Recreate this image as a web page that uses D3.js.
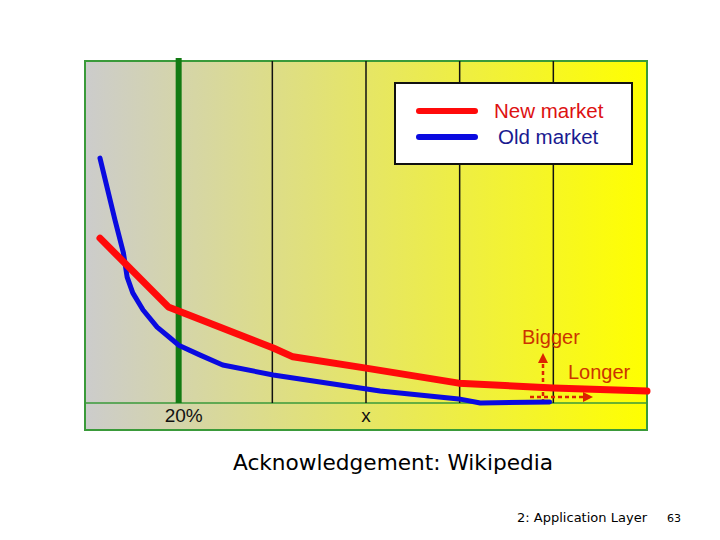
<!DOCTYPE html>
<html>
<head>
<meta charset="utf-8">
<script src="https://cdn.jsdelivr.net/npm/d3@7"></script>
<style>
  body { margin: 0; background: #fff; }
  svg { display: block; }
</style>
</head>
<body>
<div id="chart"></div>
<script>
// x is in column units (6 columns), y in percent of plot height
const newMarket = [
    { x: 0.16, y: 48.2 }, { x: 0.89, y: 28.1 }, { x: 2.01, y: 16.1 },
    { x: 2.22, y: 13.5 }, { x: 3.0, y: 10.2 }, { x: 3.99, y: 5.8 },
    { x: 5.0, y: 4.4 }, { x: 6.0, y: 3.5 }
];
const oldMarket = [
    { x: 0.16, y: 71.6 }, { x: 0.32, y: 53.5 }, { x: 0.41, y: 43.9 },
    { x: 0.45, y: 36.8 }, { x: 0.51, y: 32.2 }, { x: 0.62, y: 27.2 },
    { x: 0.77, y: 22.2 }, { x: 0.91, y: 19.0 }, { x: 1.0, y: 16.9 },
    { x: 1.23, y: 14.0 }, { x: 1.47, y: 11.1 }, { x: 2.01, y: 8.2 },
    { x: 3.15, y: 3.5 }, { x: 3.99, y: 1.2 }, { x: 4.22, y: 0 },
    { x: 4.96, y: 0.3 }
];
const gridCols = [1, 2, 3, 4, 5];
const headCol = 1;
const tickLabels = [{ x: 1, label: '20%' }, { x: 3, label: 'x' }];
const seriesNames = ['New market', 'Old market'];

(function(){
    const box = { left: 85, right: 647, top: 61, bottom: 430, axis: 403 };

    const svg = d3.select('#chart')
        .append('svg')
            .attr('width', 720)
            .attr('height', 540);

    const xScale = d3.scaleLinear().domain([0, 6]).range([box.left, box.right]);
    const yScale = d3.scaleLinear().domain([0, 100]).range([box.axis, box.top]);

    const defs = svg.append('defs');
    const grad = defs.append('linearGradient')
        .attr('id', 'bg')
        .attr('x1', '0%').attr('x2', '100%').attr('y1', '0%').attr('y2', '0%');
    grad.append('stop').attr('offset', '0%').attr('stop-color', '#cccccc');
    grad.append('stop').attr('offset', '100%').attr('stop-color', '#ffff00');

    svg.append('rect')
        .attr('x', box.left)
        .attr('y', box.top)
        .attr('width', box.right - box.left)
        .attr('height', box.bottom - box.top)
        .attr('fill', 'url(#bg)')
        .attr('stroke', '#3a9a3a')
        .attr('stroke-width', 2);

    svg.append('line')
        .attr('x1', box.left).attr('x2', box.right)
        .attr('y1', box.axis).attr('y2', box.axis)
        .attr('stroke', '#3a9a3a')
        .attr('stroke-width', 1.5);

    svg.selectAll('.grid')
        .data(gridCols.filter(d => d !== headCol))
        .enter()
        .append('line')
            .attr('class', 'grid')
            .attr('x1', d => xScale(d)).attr('x2', d => xScale(d))
            .attr('y1', box.top).attr('y2', box.axis)
            .attr('stroke', '#111')
            .attr('stroke-width', 1.5);

    svg.append('line')
        .attr('x1', xScale(headCol)).attr('x2', xScale(headCol))
        .attr('y1', box.top - 3).attr('y2', box.axis)
        .attr('stroke', '#127a12')
        .attr('stroke-width', 6);

    // the 20% label sits a little right of its line
    svg.selectAll('.tick-label')
        .data(tickLabels)
        .enter()
        .append('text')
            .attr('class', 'tick-label')
            .attr('x', d => xScale(d.x) + (d.x === headCol ? 5 : 0))
            .attr('y', 422)
            .attr('text-anchor', 'middle')
            .attr('font-family', 'Liberation Sans, Arial, sans-serif')
            .attr('font-size', 19)
            .attr('fill', '#111')
            .text(d => d.label);

    const line = d3.line()
        .x(d => xScale(d.x))
        .y(d => yScale(d.y));

    // bigger / longer arrows
    const arrowColor = '#dd2200';
    defs.append('marker')
        .attr('id', 'arrow')
        .attr('viewBox', '0 0 10 10')
        .attr('refX', 5).attr('refY', 5)
        .attr('markerWidth', 4).attr('markerHeight', 4)
        .attr('orient', 'auto')
        .append('path')
            .attr('d', 'M0,0L10,5L0,10Z')
            .attr('fill', arrowColor);

    svg.append('line')
        .attr('x1', 543).attr('x2', 543)
        .attr('y1', box.axis).attr('y2', 358)
        .attr('stroke', arrowColor)
        .attr('stroke-width', 2.5)
        .attr('stroke-dasharray', '4,3')
        .attr('marker-end', 'url(#arrow)');
    svg.append('line')
        .attr('x1', 530).attr('x2', 588)
        .attr('y1', 397).attr('y2', 397)
        .attr('stroke', arrowColor)
        .attr('stroke-width', 2.5)
        .attr('stroke-dasharray', '4,3')
        .attr('marker-end', 'url(#arrow)');

    svg.append('path')
        .datum(oldMarket)
        .attr('d', line)
        .attr('fill', 'none')
        .attr('stroke', '#0a0ae0')
        .attr('stroke-width', 5)
        .attr('stroke-linejoin', 'round')
        .attr('stroke-linecap', 'round');

    svg.append('path')
        .datum(newMarket)
        .attr('d', line)
        .attr('fill', 'none')
        .attr('stroke', '#ff0a0a')
        .attr('stroke-width', 7)
        .attr('stroke-linejoin', 'round')
        .attr('stroke-linecap', 'round');

    svg.append('text')
        .attr('x', 522).attr('y', 344)
        .attr('font-family', 'Liberation Sans, Arial, sans-serif')
        .attr('font-size', 20)
        .attr('fill', '#cc3300')
        .text('Bigger');
    svg.append('text')
        .attr('x', 568).attr('y', 379)
        .attr('font-family', 'Liberation Sans, Arial, sans-serif')
        .attr('font-size', 20)
        .attr('fill', '#cc3300')
        .text('Longer');

    // legend
    const legend = svg.append('g');
    legend.append('rect')
        .attr('x', 395).attr('y', 83)
        .attr('width', 237).attr('height', 81)
        .attr('fill', '#fff')
        .attr('stroke', '#111')
        .attr('stroke-width', 2);

    const legendColors = ['#ff0a0a', '#0a0ae0'];
    const textColors = ['#dd1111', '#1a1a90'];
    const legendY = d3.scalePoint().domain(seriesNames).range([111, 137]);

    legend.selectAll('.key')
        .data(seriesNames)
        .enter()
        .append('line')
            .attr('class', 'key')
            .attr('x1', 419).attr('x2', 475)
            .attr('y1', d => legendY(d)).attr('y2', d => legendY(d))
            .attr('stroke', (d, i) => legendColors[i])
            .attr('stroke-width', 6)
            .attr('stroke-linecap', 'round');

    legend.selectAll('.key-label')
        .data(seriesNames)
        .enter()
        .append('text')
            .attr('class', 'key-label')
            .attr('x', (d, i) => i === 0 ? 494 : 498)
            .attr('y', d => legendY(d) + 6.5)
            .attr('font-family', 'Liberation Sans, Arial, sans-serif')
            .attr('font-size', 20.5)
            .attr('fill', (d, i) => textColors[i])
            .text(d => d);

    // slide footer
    svg.append('text')
        .attr('x', 233).attr('y', 470)
        .attr('font-family', 'Comic Sans MS, DejaVu Sans, sans-serif')
        .attr('font-size', 21)
        .attr('textLength', 320)
        .attr('lengthAdjust', 'spacingAndGlyphs')
        .attr('fill', '#000')
        .text('Acknowledgement: Wikipedia');
    svg.append('text')
        .attr('x', 517).attr('y', 522)
        .attr('font-family', 'Comic Sans MS, DejaVu Sans, sans-serif')
        .attr('font-size', 13)
        .attr('textLength', 130)
        .attr('lengthAdjust', 'spacingAndGlyphs')
        .attr('fill', '#000')
        .text('2: Application Layer');
    svg.append('text')
        .attr('x', 667).attr('y', 522)
        .attr('font-family', 'Comic Sans MS, DejaVu Sans, sans-serif')
        .attr('font-size', 11)
        .attr('fill', '#000')
        .text('63');
}())
</script>
</body>
</html>
